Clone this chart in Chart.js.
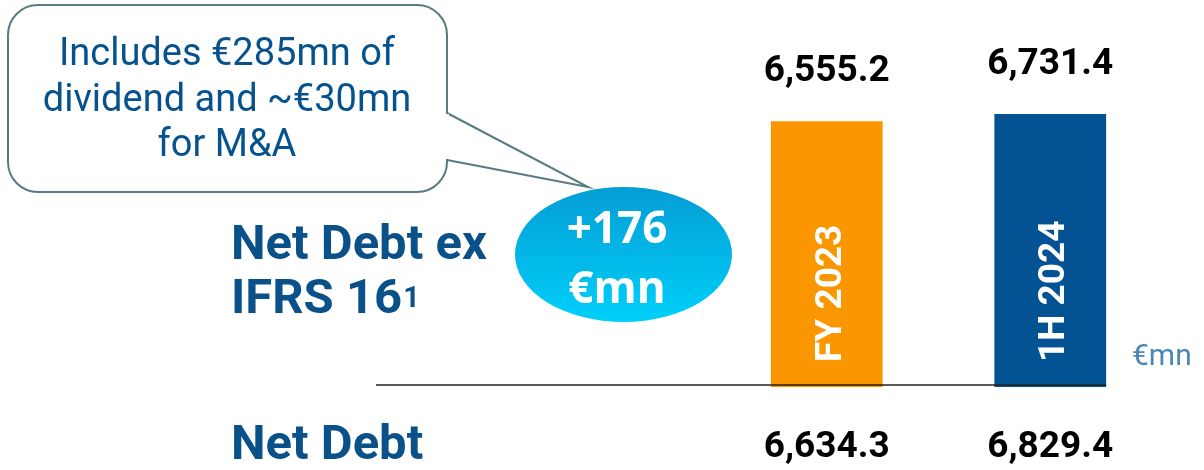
<!DOCTYPE html>
<html>
<head>
<meta charset="utf-8">
<script src="https://cdn.jsdelivr.net/npm/chart.js@4.4.1/dist/chart.umd.min.js"></script>
<style>
  html, body { margin: 0; padding: 0; background: #ffffff; }
  #wrap { width: 1204px; height: 470px; position: relative; }
</style>
</head>
<body>
<div id="wrap"><canvas id="chartDebt" width="1204" height="470"></canvas></div>
<script>
// data
const periods = ['FY 2023', '1H 2024'];
const netDebtExIfrs = [6555.2, 6731.4];
const netDebt = [6634.3, 6829.4];
const barColors = ['#fa9600', '#025294'];
const deltaText = ['+176', '€mn'];
const calloutLines = ['Includes €285mn of', 'dividend and ~€30mn', 'for M&A'];

const BLUE_TXT = '#0a5089';

function fmt(v) {
  return v.toLocaleString('en-US', { minimumFractionDigits: 1, maximumFractionDigits: 1 });
}

function roundRect(ctx, x, y, w, h, r) {
  ctx.moveTo(x + r, y);
  ctx.lineTo(x + w - r, y);
  ctx.arcTo(x + w, y, x + w, y + r, r);
  ctx.lineTo(x + w, y + h - r);
  ctx.arcTo(x + w, y + h, x + w - r, y + h, r);
  ctx.lineTo(x + r, y + h);
  ctx.arcTo(x, y + h, x, y + h - r, r);
  ctx.lineTo(x, y + r);
  ctx.arcTo(x, y, x + r, y, r);
}

const decorPlugin = {
  id: 'decor',
  afterDatasetsDraw(chart) {
    const ctx = chart.ctx;
    const meta = chart.getDatasetMeta(0);
    const base = chart.scales.y.getPixelForValue(0);
    ctx.save();

    // baseline
    ctx.strokeStyle = '#222222';
    ctx.lineWidth = 1.5;
    ctx.beginPath();
    ctx.moveTo(376, base - 2);
    ctx.lineTo(meta.data[1].x + meta.data[1].width / 2, base - 2);
    ctx.stroke();

    // values, labels inside bars
    meta.data.forEach((bar, i) => {
      ctx.fillStyle = '#000000';
      ctx.font = 'bold 37px Roboto';
      ctx.textAlign = 'center';
      ctx.textBaseline = 'alphabetic';
      ctx.fillText(fmt(netDebtExIfrs[i]), bar.x, bar.y - 40);
      ctx.fillText(fmt(netDebt[i]), bar.x, 457);

      ctx.save();
      ctx.translate(bar.x + 14, 362);
      ctx.rotate(-Math.PI / 2);
      ctx.fillStyle = '#ffffff';
      ctx.font = 'bold 37px Roboto';
      ctx.textAlign = 'left';
      ctx.fillText(periods[i], 0, 0);
      ctx.restore();
    });

    // unit
    ctx.fillStyle = '#4a86b6';
    ctx.font = '30px Roboto';
    ctx.textAlign = 'left';
    ctx.fillText('€mn', 1132, 365);

    // left row labels
    ctx.fillStyle = BLUE_TXT;
    ctx.font = 'bold 49px Roboto';
    ctx.fillText('Net Debt ex', 231, 259);
    ctx.fillText('IFRS 16', 231, 313);
    const w16 = ctx.measureText('IFRS 16').width;
    ctx.font = 'bold 29px Roboto';
    ctx.fillText('1', 231 + w16 + 1, 307);
    ctx.font = 'bold 49px Roboto';
    ctx.fillText('Net Debt', 231, 459);

    // callout box with tail
    ctx.strokeStyle = '#577b80';
    ctx.lineWidth = 2;
    ctx.fillStyle = '#ffffff';
    ctx.beginPath();
    roundRect(ctx, 8, 5, 439, 187, 30);
    ctx.fill();
    ctx.stroke();
    ctx.beginPath();
    ctx.moveTo(447, 113);
    ctx.lineTo(588, 187);
    ctx.lineTo(447, 160);
    ctx.stroke();
    ctx.fillStyle = '#ffffff';
    ctx.fillRect(444, 114, 5, 45);

    ctx.fillStyle = '#05528e';
    ctx.font = '38px Roboto';
    ctx.textAlign = 'center';
    calloutLines.forEach((t, k) => ctx.fillText(t, 227, 65 + k * 45.5));

    // ellipse
    const grad = ctx.createLinearGradient(0, 187, 0, 322);
    grad.addColorStop(0, '#049dd4');
    grad.addColorStop(1, '#00d0fa');
    ctx.fillStyle = grad;
    ctx.beginPath();
    ctx.ellipse(623.5, 254.5, 108.5, 67.5, 0, 0, Math.PI * 2);
    ctx.fill();
    ctx.fillStyle = '#ffffff';
    ctx.font = 'bold 44px "Open Sans"';
    ctx.fillText(deltaText[0], 617, 243);
    ctx.fillText(deltaText[1], 617, 303);

    ctx.restore();
  }
};

new Chart(document.getElementById('chartDebt'), {
  type: 'bar',
  data: {
    labels: periods,
    datasets: [{
      data: netDebtExIfrs,
      backgroundColor: barColors,
      borderWidth: 0,
      categoryPercentage: 1,
      barPercentage: 0.5
    }]
  },
  options: {
    responsive: false,
    animation: false,
    layout: { padding: { left: 715, right: 42, top: 22, bottom: 83 } },
    scales: {
      x: { display: false },
      y: { display: false, min: 0, max: 9000 }
    },
    plugins: {
      legend: { display: false },
      tooltip: { enabled: false }
    }
  },
  plugins: [decorPlugin]
});
</script>
</body>
</html>
